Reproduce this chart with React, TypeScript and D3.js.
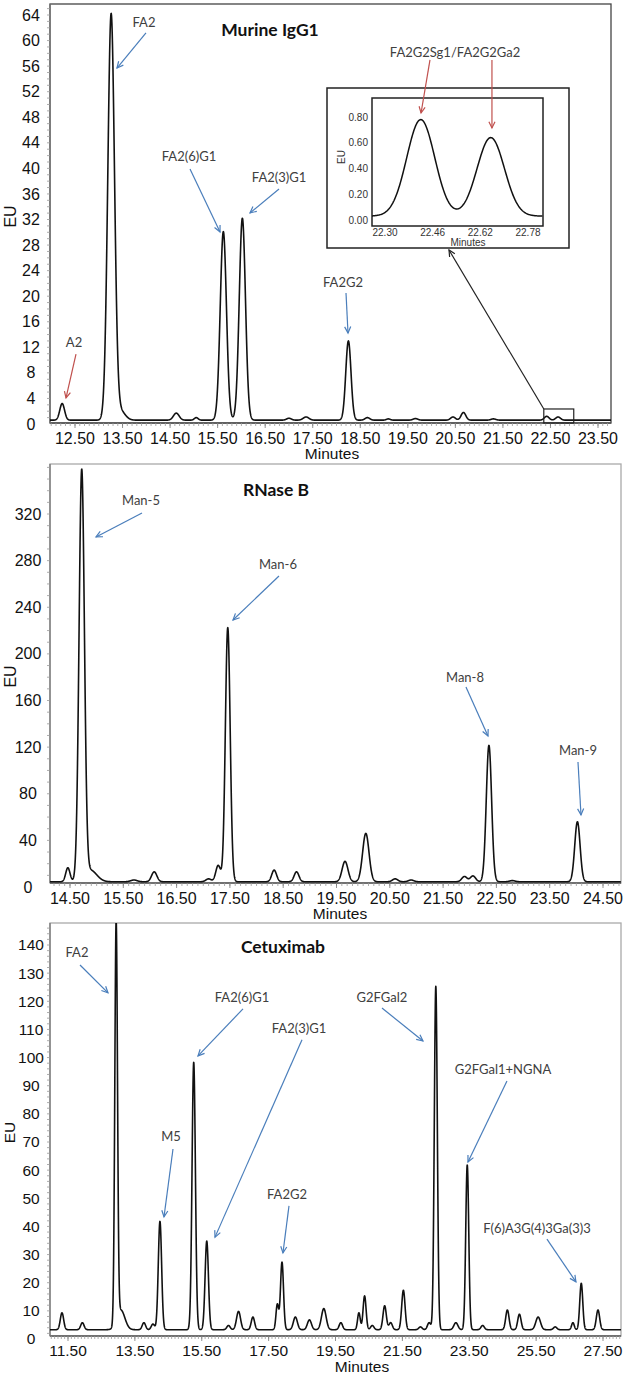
import * as d3 from "d3";

type Peak = { rt: number; h: number; w: number };
type Note = { text: string; lx: number; ly: number; x1: number; y1: number; x2: number; y2: number; red?: boolean };

// ---------- Murine IgG1 (retention time, height above baseline, peak sigma) ----------
const iggBaseline = 0.6;
const iggPeaks: Peak[] = [
  { rt: 12.23, h: 2.6, w: 0.05 }, // A2
  { rt: 13.26, h: 63.4, w: 0.07 }, // FA2
  { rt: 13.45, h: 1.5, w: 0.1 },
  { rt: 14.63, h: 1.1, w: 0.06 },
  { rt: 15.05, h: 0.4, w: 0.04 },
  { rt: 15.62, h: 29.5, w: 0.065 }, // FA2(6)G1
  { rt: 16.02, h: 31.6, w: 0.065 }, // FA2(3)G1
  { rt: 17.0, h: 0.3, w: 0.05 },
  { rt: 17.36, h: 0.5, w: 0.06 },
  { rt: 18.25, h: 12.4, w: 0.055 }, // FA2G2
  { rt: 18.65, h: 0.4, w: 0.05 },
  { rt: 19.09, h: 0.2, w: 0.04 },
  { rt: 19.66, h: 0.25, w: 0.05 },
  { rt: 20.45, h: 0.5, w: 0.05 },
  { rt: 20.67, h: 1.2, w: 0.05 },
  { rt: 21.3, h: 0.2, w: 0.05 },
  { rt: 22.42, h: 0.6, w: 0.05 },
  { rt: 22.66, h: 0.5, w: 0.05 },
];
const iggXTicks = [12.5, 13.5, 14.5, 15.5, 16.5, 17.5, 18.5, 19.5, 20.5, 21.5, 22.5, 23.5];
const iggYTicks = [0, 4, 8, 12, 16, 20, 24, 28, 32, 36, 40, 44, 48, 52, 56, 60, 64];
const iggNotes: Note[] = [
  { text: "FA2", lx: 13.951, ly: 62.9, x1: 13.993, y1: 61.2, x2: 13.383, y2: 55.7 },
  { text: "A2", lx: 12.479, ly: 12.83, x1: 12.521, y1: 10.95, x2: 12.311, y2: 4.07, red: true },
  { text: "FA2(6)G1", lx: 14.898, ly: 41.8, x1: 14.919, y1: 39.9, x2: 15.55, y2: 30.05 },
  { text: "FA2(3)G1", lx: 16.791, ly: 38.65, x1: 16.791, y1: 36.78, x2: 16.181, y2: 33.02 },
  { text: "FA2G2", lx: 18.137, ly: 22.2, x1: 18.2, y1: 20.5, x2: 18.242, y2: 14.24 },
];
const zoomBox = { rt0: 22.36, rt1: 22.99, eu0: 0.16, eu1: 2.35 };

// ---------- Inset: FA2G2Sg1 / FA2G2Ga2 ----------
const insetBaseline = 0.03;
const insetPeaks: Peak[] = [
  { rt: 22.42, h: 0.75, w: 0.047 },
  { rt: 22.655, h: 0.61, w: 0.046 },
];
const insetXTicks = [22.3, 22.46, 22.62, 22.78];
const insetYTicks = [0, 0.2, 0.4, 0.6, 0.8];
const insetNotes: Note[] = [
  { text: "FA2G2Sg1/FA2G2Ga2", lx: 22.535, ly: 1.305, x1: 22.451, y1: 1.243, x2: 22.421, y2: 0.831, red: true },
  { text: "", lx: 0, ly: 0, x1: 22.659, y1: 1.243, x2: 22.659, y2: 0.715, red: true },
];

// ---------- RNase B ----------
const rnaseBaseline = 4.5;
const rnasePeaks: Peak[] = [
  { rt: 14.46, h: 12, w: 0.04 },
  { rt: 14.72, h: 350, w: 0.05 }, // Man-5
  { rt: 14.88, h: 10, w: 0.12 },
  { rt: 15.7, h: 1.5, w: 0.06 },
  { rt: 16.08, h: 8.5, w: 0.05 },
  { rt: 17.1, h: 2.5, w: 0.05 },
  { rt: 17.28, h: 14, w: 0.045 },
  { rt: 17.46, h: 218, w: 0.045 }, // Man-6
  { rt: 18.33, h: 10, w: 0.045 },
  { rt: 18.75, h: 8.5, w: 0.045 },
  { rt: 19.66, h: 17.5, w: 0.055 },
  { rt: 20.05, h: 41.5, w: 0.06 },
  { rt: 20.6, h: 2.5, w: 0.05 },
  { rt: 20.9, h: 1.5, w: 0.05 },
  { rt: 21.9, h: 4.5, w: 0.05 },
  { rt: 22.06, h: 5, w: 0.05 },
  { rt: 22.36, h: 117, w: 0.05 }, // Man-8
  { rt: 22.8, h: 1, w: 0.05 },
  { rt: 24.02, h: 51.5, w: 0.05 }, // Man-9
];
const rnaseXTicks = [14.5, 15.5, 16.5, 17.5, 18.5, 19.5, 20.5, 21.5, 22.5, 23.5, 24.5];
const rnaseYTicks = [0, 40, 80, 120, 160, 200, 240, 280, 320];
const rnaseNotes: Note[] = [
  { text: "Man-5", lx: 15.832, ly: 331.2, x1: 15.851, y1: 320.9, x2: 14.988, y2: 300.3 },
  { text: "Man-6", lx: 18.402, ly: 276.3, x1: 18.421, y1: 266.8, x2: 17.558, y2: 229.1 },
  { text: "Man-8", lx: 21.911, ly: 180.2, x1: 21.929, y1: 171.6, x2: 22.342, y2: 129.5 },
  { text: "Man-9", lx: 24.031, ly: 117.5, x1: 24.031, y1: 107.2, x2: 24.087, y2: 61.8 },
];

// ---------- Cetuximab ----------
const cetuxBaseline = 3.3;
const cetuxPeaks: Peak[] = [
  { rt: 11.32, h: 6, w: 0.05 },
  { rt: 11.93, h: 2.5, w: 0.05 },
  { rt: 12.94, h: 142, w: 0.04 }, // FA2
  { rt: 13.08, h: 7, w: 0.12 },
  { rt: 13.77, h: 2.5, w: 0.05 },
  { rt: 14.04, h: 2, w: 0.05 },
  { rt: 14.25, h: 38.5, w: 0.05 }, // M5
  { rt: 15.26, h: 95, w: 0.05 }, // FA2(6)G1
  { rt: 15.65, h: 31.5, w: 0.05 }, // FA2(3)G1
  { rt: 16.3, h: 1.5, w: 0.05 },
  { rt: 16.6, h: 6.5, w: 0.06 },
  { rt: 17.03, h: 4.5, w: 0.05 },
  { rt: 17.76, h: 9, w: 0.04 },
  { rt: 17.9, h: 24, w: 0.045 }, // FA2G2
  { rt: 18.3, h: 4.5, w: 0.06 },
  { rt: 18.72, h: 3.5, w: 0.06 },
  { rt: 19.15, h: 7.5, w: 0.07 },
  { rt: 19.66, h: 2.5, w: 0.05 },
  { rt: 20.2, h: 6, w: 0.04 },
  { rt: 20.37, h: 12, w: 0.045 },
  { rt: 20.6, h: 1.5, w: 0.05 },
  { rt: 20.97, h: 8.5, w: 0.05 },
  { rt: 21.15, h: 2.5, w: 0.05 },
  { rt: 21.53, h: 14, w: 0.05 },
  { rt: 22.04, h: 1, w: 0.05 },
  { rt: 22.3, h: 2.5, w: 0.05 },
  { rt: 22.5, h: 122, w: 0.045 }, // G2FGal2
  { rt: 23.1, h: 2.5, w: 0.06 },
  { rt: 23.44, h: 58.5, w: 0.045 }, // G2FGal1+NGNA
  { rt: 23.9, h: 1.5, w: 0.05 },
  { rt: 24.64, h: 7, w: 0.05 },
  { rt: 25.0, h: 5.5, w: 0.05 },
  { rt: 25.56, h: 4.5, w: 0.07 },
  { rt: 26.07, h: 1, w: 0.05 },
  { rt: 26.6, h: 2.5, w: 0.04 },
  { rt: 26.85, h: 16.5, w: 0.045 }, // F(6)A3G(4)3Ga(3)3
  { rt: 27.35, h: 7, w: 0.05 },
];
const cetuxXTicks = [11.5, 13.5, 15.5, 17.5, 19.5, 21.5, 23.5, 25.5, 27.5];
const cetuxYTicks = [0, 10, 20, 30, 40, 50, 60, 70, 80, 90, 100, 110, 120, 130, 140];
const cetuxNotes: Note[] = [
  { text: "FA2", lx: 11.769, ly: 137.2, x1: 11.859, y1: 132.9, x2: 12.696, y2: 123.0 },
  { text: "FA2(6)G1", lx: 16.703, ly: 121.5, x1: 16.733, y1: 117.3, x2: 15.388, y2: 100.6 },
  { text: "FA2(3)G1", lx: 18.408, ly: 110.5, x1: 18.498, y1: 106.3, x2: 15.896, y2: 36.2 },
  { text: "M5", lx: 14.58, ly: 71.8, x1: 14.64, y1: 67.5, x2: 14.371, y2: 43.4 },
  { text: "FA2G2", lx: 18.049, ly: 51.5, x1: 18.109, y1: 47.3, x2: 17.929, y2: 30.6 },
  { text: "G2FGal2", lx: 20.89, ly: 121.5, x1: 20.89, y1: 117.6, x2: 22.116, y2: 105.9 },
  { text: "G2FGal1+NGNA", lx: 24.508, ly: 95.9, x1: 24.628, y1: 91.7, x2: 23.462, y2: 62.9 },
  { text: "F(6)A3G(4)3Ga(3)3", lx: 25.525, ly: 39.4, x1: 25.824, y1: 35.5, x2: 26.691, y2: 20.3 },
];

const BLUE = "#4a7ebb";
const RED = "#c0504d";
const AXIS_FONT = "'Liberation Sans', Arial, sans-serif";
const NOTE_FONT = "Lato, 'Open Sans', sans-serif";

function signal(peaks: Peak[], base: number, t: number) {
  let v = base;
  for (const p of peaks) {
    const z = (t - p.rt) / p.w;
    v += p.h * Math.exp(-0.5 * z * z);
  }
  return v;
}

type Frame = { l: number; t: number; r: number; b: number };
type PanelCfg = {
  id: string;
  frame: Frame;
  xDomain: [number, number];
  xRange: [number, number];
  yDomain: [number, number];
  yRange: [number, number];
  peaks: Peak[];
  baseline: number;
  xTicks: number[];
  yTicks: number[];
  yMinor: number;
  notes: Note[];
  title: string;
  titleX: number;
  titleY: number;
  minutesX: number;
  yLabelX: number;
  fontSize: number;
  frameColor: string;
};

function Arrow({ x1, y1, x2, y2, color }: { x1: number; y1: number; x2: number; y2: number; color: string }) {
  const a = Math.atan2(y2 - y1, x2 - x1);
  const L = 7;
  const s = 0.45;
  const p1 = [x2 - L * Math.cos(a - s), y2 - L * Math.sin(a - s)];
  const p2 = [x2 - L * Math.cos(a + s), y2 - L * Math.sin(a + s)];
  return (
    <g stroke={color} strokeWidth={1.2} fill="none">
      <line x1={x1} y1={y1} x2={x2} y2={y2} />
      <polyline points={`${p1[0]},${p1[1]} ${x2},${y2} ${p2[0]},${p2[1]}`} />
    </g>
  );
}

function Panel({ cfg, children }: { cfg: PanelCfg; children?: any }) {
  const { frame: f } = cfg;
  const x = d3.scaleLinear().domain(cfg.xDomain).range(cfg.xRange);
  const y = d3.scaleLinear().domain(cfg.yDomain).range(cfg.yRange);
  const t0 = x.invert(f.l);
  const t1 = x.invert(f.r);
  const samples = d3.range(t0, t1, 0.003);
  const line = d3
    .line<number>()
    .x((t) => x(t))
    .y((t) => y(signal(cfg.peaks, cfg.baseline, t)));
  const xMinor = d3.range(Math.ceil(t0 * 10) / 10, t1, 0.1);
  const yLo = y.invert(f.b);
  const yHi = y.invert(f.t);
  const yMinor = d3.range(Math.ceil(yLo / cfg.yMinor) * cfg.yMinor, yHi, cfg.yMinor);
  const plotMidY = (f.t + f.b) / 2;
  return (
    <g>
      <clipPath id={`clip-${cfg.id}`}>
        <rect x={f.l} y={f.t} width={f.r - f.l} height={f.b - f.t} />
      </clipPath>
      <rect x={f.l} y={f.t} width={f.r - f.l} height={f.b - f.t} fill="#fff" stroke={cfg.frameColor} strokeWidth={1.3} />
      <line x1={f.l} y1={f.b} x2={f.r} y2={f.b} stroke="#555" strokeWidth={1.3} />
      <line x1={f.l} y1={f.t} x2={f.l} y2={f.b} stroke="#777" strokeWidth={1.3} />
      <g stroke="#999" strokeWidth={0.8}>
        {xMinor.map((t, i) => (
          <line key={i} x1={x(t)} x2={x(t)} y1={f.b} y2={f.b + 3} />
        ))}
        {cfg.xTicks.map((t, i) => (
          <line key={`M${i}`} x1={x(t)} x2={x(t)} y1={f.b} y2={f.b + 5} stroke="#777" />
        ))}
        {yMinor.map((v, i) => (
          <line key={`y${i}`} x1={f.l - 3} x2={f.l} y1={y(v)} y2={y(v)} />
        ))}
      </g>
      <path d={line(samples) ?? ""} fill="none" stroke="#111" strokeWidth={1.6} strokeLinejoin="round" clipPath={`url(#clip-${cfg.id})`} />
      <g fontFamily={AXIS_FONT} fontSize={cfg.fontSize} fill="#111" textAnchor="middle">
        {cfg.xTicks.map((t, i) => (
          <text key={i} x={x(t)} y={f.b + 15} dy="0.35em">
            {t.toFixed(2)}
          </text>
        ))}
        {cfg.yTicks.map((v, i) => (
          <text key={`y${i}`} x={cfg.yLabelX} y={y(v)} dy="0.35em">
            {v}
          </text>
        ))}
        <text x={cfg.minutesX} y={f.b + 31} dy="0.35em" fontSize={15.5}>
          Minutes
        </text>
        <text transform={`translate(10,${plotMidY + 3}) rotate(-90)`} dy="0.35em">
          EU
        </text>
      </g>
      <text x={cfg.titleX} y={cfg.titleY} dy="0.35em" fontFamily={NOTE_FONT} fontWeight="bold" fontSize={17.5} textAnchor="middle" fill="#111">
        {cfg.title}
      </text>
      <g fontFamily={NOTE_FONT} fontSize={13} fill="#404040" textAnchor="middle">
        {cfg.notes.map((n, i) => (
          <g key={i}>
            <text x={x(n.lx)} y={y(n.ly)} dy="0.35em">
              {n.text}
            </text>
            <Arrow x1={x(n.x1)} y1={y(n.y1)} x2={x(n.x2)} y2={y(n.y2)} color={n.red ? RED : BLUE} />
          </g>
        ))}
      </g>
      {children ? children(x, y) : null}
    </g>
  );
}

function Inset() {
  const outer = { l: 327, t: 88, r: 569, b: 248 };
  const f = { l: 372, t: 98, r: 543, b: 226 };
  const x = d3.scaleLinear().domain([22.3, 22.78]).range([385, 528]);
  const y = d3.scaleLinear().domain([0, 0.8]).range([220, 117]);
  const samples = d3.range(x.invert(f.l), x.invert(f.r), 0.002);
  const line = d3
    .line<number>()
    .x((t) => x(t))
    .y((t) => y(signal(insetPeaks, insetBaseline, t)));
  return (
    <g>
      <rect x={outer.l} y={outer.t} width={outer.r - outer.l} height={outer.b - outer.t} fill="#fff" stroke="#222" strokeWidth={1.5} />
      <clipPath id="clip-inset">
        <rect x={f.l} y={f.t} width={f.r - f.l} height={f.b - f.t} />
      </clipPath>
      <rect x={f.l} y={f.t} width={f.r - f.l} height={f.b - f.t} fill="#fff" stroke="#222" strokeWidth={1.5} />
      <path d={line(samples) ?? ""} fill="none" stroke="#111" strokeWidth={1.5} clipPath="url(#clip-inset)" />
      <g fontFamily={AXIS_FONT} fontSize={10} fill="#333">
        {insetXTicks.map((t, i) => (
          <text key={i} x={x(t)} y={232} dy="0.35em" textAnchor="middle">
            {t.toFixed(2)}
          </text>
        ))}
        {insetYTicks.map((v, i) => (
          <text key={`y${i}`} x={368} y={y(v)} dy="0.35em" textAnchor="end">
            {v.toFixed(2)}
          </text>
        ))}
        <text x={468} y={242} dy="0.35em" textAnchor="middle">
          Minutes
        </text>
        <text transform="translate(341,157) rotate(-90)" dy="0.35em" textAnchor="middle">
          EU
        </text>
      </g>
      <g fontFamily={NOTE_FONT} fontSize={13} fill="#404040" textAnchor="middle">
        {insetNotes.map((n, i) => (
          <g key={i}>
            {n.text ? (
              <text x={x(n.lx)} y={y(n.ly)} dy="0.35em">
                {n.text}
              </text>
            ) : null}
            <Arrow x1={x(n.x1)} y1={y(n.y1)} x2={x(n.x2)} y2={y(n.y2)} color={RED} />
          </g>
        ))}
      </g>
    </g>
  );
}

const panels: PanelCfg[] = [
  {
    id: "igg",
    frame: { l: 50, t: 4, r: 611, b: 423 },
    xDomain: [12.5, 23.5],
    xRange: [75, 598],
    yDomain: [0, 64],
    yRange: [424, 15],
    peaks: iggPeaks,
    baseline: iggBaseline,
    xTicks: iggXTicks,
    yTicks: iggYTicks,
    yMinor: 1,
    notes: iggNotes,
    title: "Murine IgG1",
    titleX: 270,
    titleY: 30,
    minutesX: 332,
    yLabelX: 31,
    fontSize: 16,
    frameColor: "#444",
  },
  {
    id: "rnase",
    frame: { l: 50, t: 464, r: 621, b: 883 },
    xDomain: [14.5, 24.5],
    xRange: [70, 603],
    yDomain: [0, 320],
    yRange: [887, 514],
    peaks: rnasePeaks,
    baseline: rnaseBaseline,
    xTicks: rnaseXTicks,
    yTicks: rnaseYTicks,
    yMinor: 10,
    notes: rnaseNotes,
    title: "RNase B",
    titleX: 276,
    titleY: 490,
    minutesX: 340,
    yLabelX: 28,
    fontSize: 16,
    frameColor: "#aaa",
  },
  {
    id: "cetux",
    frame: { l: 50, t: 923, r: 621, b: 1336 },
    xDomain: [11.5, 27.5],
    xRange: [68, 603],
    yDomain: [0, 140],
    yRange: [1339, 945],
    peaks: cetuxPeaks,
    baseline: cetuxBaseline,
    xTicks: cetuxXTicks,
    yTicks: cetuxYTicks,
    yMinor: 2,
    notes: cetuxNotes,
    title: "Cetuximab",
    titleX: 283,
    titleY: 947,
    minutesX: 362,
    yLabelX: 31,
    fontSize: 15.5,
    frameColor: "#aaa",
  },
];

export default function App() {
  return (
    <div style={{ position: "absolute", left: 0, top: 0 }}>
      <svg width={627} height={1375} viewBox="0 0 627 1375" style={{ display: "block", background: "#fff" }}>
        <Panel cfg={panels[0]}>
          {(x: d3.ScaleLinear<number, number>, y: d3.ScaleLinear<number, number>) => (
            <g>
              <rect
                x={x(zoomBox.rt0)}
                y={y(zoomBox.eu1)}
                width={x(zoomBox.rt1) - x(zoomBox.rt0)}
                height={y(zoomBox.eu0) - y(zoomBox.eu1)}
                fill="none"
                stroke="#222"
                strokeWidth={1.2}
              />
              <Arrow x1={x(zoomBox.rt0)} y1={y(zoomBox.eu1)} x2={449} y2={250} color="#222" />
              <Inset />
            </g>
          )}
        </Panel>
        <Panel cfg={panels[1]} />
        <Panel cfg={panels[2]} />
      </svg>
    </div>
  );
}
